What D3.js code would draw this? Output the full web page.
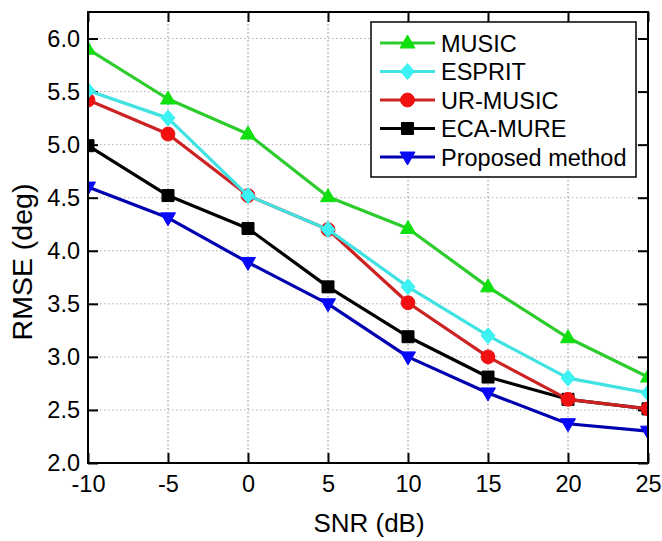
<!DOCTYPE html>
<html>
<head>
<meta charset="utf-8">
<script src="https://cdn.jsdelivr.net/npm/d3@7"></script>
<style>
  body { margin: 0; background: #fff; }
  text { font-family: Arial, "Liberation Sans", sans-serif; fill: #000; }
</style>
</head>
<body>
<svg id="chart" width="662" height="541"></svg>
<script>
// DATA
var snr = [-10, -5, 0, 5, 10, 15, 20, 25];
var music = [5.90, 5.43, 5.10, 4.51, 4.21, 3.66, 3.18, 2.81];
var esprit = [5.51, 5.25, 4.52, 4.20, 3.66, 3.20, 2.80, 2.66];
var urMusic = [5.42, 5.10, 4.52, 4.20, 3.51, 3.00, 2.60, 2.51];
var ecaMure = [4.99, 4.52, 4.21, 3.66, 3.19, 2.81, 2.60, 2.51];
var proposed = [4.60, 4.31, 3.89, 3.50, 3.00, 2.66, 2.37, 2.30];
var seriesNames = ["MUSIC", "ESPRIT", "UR-MUSIC", "ECA-MURE", "Proposed method"];
var xTicks = [-10, -5, 0, 5, 10, 15, 20, 25];
var yTicks = [2.0, 2.5, 3.0, 3.5, 4.0, 4.5, 5.0, 5.5, 6.0];

var series = [
    {name: seriesNames[0], values: music,    line: "#2dcc2d", fill: "#10e010", marker: "triangleUp"},
    {name: seriesNames[1], values: esprit,   line: "#40e2e2", fill: "#3cf2f2", marker: "diamond"},
    {name: seriesNames[2], values: urMusic,  line: "#cc2222", fill: "#f01010", marker: "circle"},
    {name: seriesNames[3], values: ecaMure,  line: "#000000", fill: "#000000", marker: "square"},
    {name: seriesNames[4], values: proposed, line: "#0000b0", fill: "#0808f8", marker: "triangleDown"}
];

// plot box (window.top is reserved, so prefix everything)
var plotLeft = 88, plotRight = 648, plotTop = 12, plotBottom = 463;

var svg = d3.select("#chart");

var x = d3.scaleLinear().domain([-10, 25]).range([plotLeft, plotRight]);
var y = d3.scaleLinear().domain([2, 6.25]).range([plotBottom, plotTop]);

// marker path for a given type, centered on 0,0
function markerPath(type) {
    if (type === "triangleUp") return "M0,-8L7.5,5L-7.5,5Z";
    if (type === "triangleDown") return "M0,8L7.5,-5L-7.5,-5Z";
    if (type === "diamond") return "M0,-8L7,0L0,8L-7,0Z";
    if (type === "square") return "M-6,-6L6,-6L6,6L-6,6Z";
    return d3.symbol().type(d3.symbolCircle).size(150)();
}

// GRID
var grid = svg.append("g");
grid.selectAll("line.gx")
    .data(xTicks.slice(1, -1))
    .enter().append("line")
    .attr("x1", function(d) { return x(d); })
    .attr("x2", function(d) { return x(d); })
    .attr("y1", plotTop).attr("y2", plotBottom)
    .style("stroke", "#8a8a8a").style("stroke-width", 1)
    .style("stroke-dasharray", "1.5,2.5");
grid.selectAll("line.gy")
    .data(yTicks.slice(1))
    .enter().append("line")
    .attr("x1", plotLeft).attr("x2", plotRight)
    .attr("y1", function(d) { return y(d); })
    .attr("y2", function(d) { return y(d); })
    .style("stroke", "#b0b0b0").style("stroke-width", 1)
    .style("stroke-dasharray", "1.5,2.5");

// AXES (ticks point inward on all four sides)
svg.append("g")
    .attr("transform", "translate(0," + plotBottom + ")")
    .call(d3.axisBottom(x).tickValues(xTicks).tickSize(-10).tickPadding(12).tickFormat(function(d) { return String(d); }))
    .call(styleAxis);
svg.append("g")
    .attr("transform", "translate(0," + plotTop + ")")
    .call(d3.axisTop(x).tickValues(xTicks).tickSize(-10).tickFormat(""))
    .call(styleAxis);
svg.append("g")
    .attr("transform", "translate(" + plotLeft + ",0)")
    .call(d3.axisLeft(y).tickValues(yTicks).tickSize(-10).tickPadding(8).tickFormat(function(d) { return d.toFixed(1); }))
    .call(styleAxis);
svg.append("g")
    .attr("transform", "translate(" + plotRight + ",0)")
    .call(d3.axisRight(y).tickValues(yTicks).tickSize(-10).tickFormat(""))
    .call(styleAxis);

function styleAxis(g) {
    g.select(".domain").remove();
    g.selectAll(".tick line").style("stroke", "#000").style("stroke-width", 2);
    g.selectAll(".tick text").style("font-size", "23.5px").attr("fill", "#000");
}

// SERIES, drawn in reverse so MUSIC / ESPRIT end up on top
svg.append("clipPath").attr("id", "plotClip")
    .append("rect")
    .attr("x", plotLeft).attr("y", plotTop)
    .attr("width", plotRight - plotLeft).attr("height", plotBottom - plotTop);

var plot = svg.append("g").attr("clip-path", "url(#plotClip)");
var line = d3.line()
    .x(function(d, i) { return x(snr[i]); })
    .y(function(d) { return y(d); });

series.slice().reverse().forEach(function(s) {
    plot.append("path")
        .attr("d", line(s.values))
        .style("fill", "none")
        .style("stroke", s.line)
        .style("stroke-width", 3.2)
        .style("stroke-linejoin", "round");
    plot.selectAll(null)
        .data(s.values)
        .enter().append("path")
        .attr("transform", function(d, i) { return "translate(" + x(snr[i]) + "," + y(d) + ")"; })
        .attr("d", markerPath(s.marker))
        .style("fill", s.fill)
        .style("stroke", s.fill)
        .style("stroke-width", 1);
});

// frame on top of the series
svg.append("rect")
    .attr("x", plotLeft).attr("y", plotTop)
    .attr("width", plotRight - plotLeft).attr("height", plotBottom - plotTop)
    .style("fill", "none").style("stroke", "#000").style("stroke-width", 2);

// AXIS TITLES
svg.append("text")
    .attr("x", (plotLeft + plotRight) / 2 + 1)
    .attr("y", 532)
    .attr("text-anchor", "middle")
    .style("font-size", "26px")
    .text("SNR (dB)");
svg.append("text")
    .attr("transform", "translate(32,262) rotate(-90)")
    .attr("text-anchor", "middle")
    .style("font-size", "28.5px")
    .text("RMSE (deg)");

// LEGEND
var legend = svg.append("g");
legend.append("rect")
    .attr("x", 371).attr("y", 22)
    .attr("width", 265).attr("height", 155)
    .style("fill", "#fff").style("stroke", "#000").style("stroke-width", 1.5);

var rows = legend.selectAll("g.row")
    .data(series)
    .enter().append("g")
    .attr("transform", function(d, i) { return "translate(0," + (43 + i * 28.5) + ")"; });
rows.append("line")
    .attr("x1", 380).attr("x2", 435)
    .style("stroke", function(d) { return d.line; })
    .style("stroke-width", 3.2);
rows.append("path")
    .attr("transform", "translate(407.5,0)")
    .attr("d", function(d) { return markerPath(d.marker); })
    .style("fill", function(d) { return d.fill; })
    .style("stroke", function(d) { return d.fill; });
rows.append("text")
    .attr("x", 441)
    .attr("y", 8.5)
    .style("font-size", "23.5px")
    .text(function(d) { return d.name; });
</script>
</body>
</html>
